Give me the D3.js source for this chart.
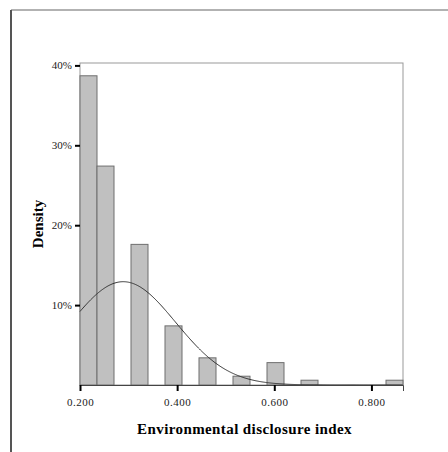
<!DOCTYPE html>
<html>
<head>
<meta charset="utf-8">
<script src="https://cdn.jsdelivr.net/npm/d3@7"></script>
<style>
  body { margin: 0; background: #fff; }
  text { font-family: "Liberation Serif", "DejaVu Serif", serif; }
</style>
</head>
<body>
<div id="chart"></div>
<script>
// histogram bins (lower edge, upper edge) and percent of cases
var binStart = [0.200, 0.235, 0.305, 0.375, 0.445, 0.515, 0.585, 0.655, 0.830];
var binEnd   = [0.235, 0.270, 0.340, 0.410, 0.480, 0.550, 0.620, 0.690, 0.865];
var percent  = [38.7, 27.4, 17.6, 7.4, 3.4, 1.1, 2.8, 0.6, 0.6];

// fitted normal curve
var curveMean = 0.289;
var curveSd = 0.108;
var binWidth = 0.035;

var xTicks = [0.2, 0.4, 0.6, 0.8];
var yTicks = [10, 20, 30, 40];

var W = 448, H = 452;
var margin = {top: 63, right: 45, bottom: 67, left: 80},
    width = W - margin.left - margin.right,
    height = H - margin.top - margin.bottom;

var root = d3.select("#chart").append("svg")
    .attr("width", W)
    .attr("height", H);

// outer frame
root.append("line").attr("x1", 11).attr("y1", 10).attr("x2", W).attr("y2", 10)
    .attr("stroke", "#999").attr("stroke-width", 1.5);
root.append("line").attr("x1", 11).attr("y1", 10).attr("x2", 11).attr("y2", H)
    .attr("stroke", "#555").attr("stroke-width", 2);

var svg = root.append("g")
    .attr("transform", "translate(" + margin.left + "," + margin.top + ")");

var x = d3.scaleLinear().domain([0.2, 0.865]).range([0, width]);
var y = d3.scaleLinear().domain([0, 40.3]).range([height, 0]);

// plot frame
svg.append("rect")
    .attr("x", 0).attr("y", 0)
    .attr("width", width).attr("height", height)
    .attr("fill", "none")
    .attr("stroke", "#999")
    .attr("stroke-width", 1);

// bars
var bins = percent.map(function(p, i) { return {x0: binStart[i], x1: binEnd[i], p: p}; });
svg.selectAll("rect.bar")
    .data(bins)
    .enter().append("rect")
    .attr("class", "bar")
    .attr("x", function(d) { return x(d.x0); })
    .attr("y", function(d) { return y(d.p); })
    .attr("width", function(d) { return x(d.x1) - x(d.x0); })
    .attr("height", function(d) { return height - y(d.p); })
    .attr("fill", "#c0c0c0")
    .attr("stroke", "#6e6e6e")
    .attr("stroke-width", 1);

// normal curve
var pts = d3.range(0.2, 0.8651, 0.002).map(function(v) {
    var z = (v - curveMean) / curveSd;
    return [v, binWidth * 100 / (curveSd * Math.sqrt(2 * Math.PI)) * Math.exp(-0.5 * z * z)];
});
svg.append("path")
    .datum(pts)
    .attr("fill", "none")
    .attr("stroke", "#333")
    .attr("stroke-width", 1)
    .attr("d", d3.line().x(function(d) { return x(d[0]); }).y(function(d) { return y(d[1]); }));

// x axis
var xAxis = svg.append("g")
    .attr("transform", "translate(0," + height + ")")
    .call(d3.axisBottom(x).tickValues(xTicks).tickFormat(d3.format(".3f")).tickSize(6).tickPadding(7));
xAxis.select(".domain").attr("stroke", "#444");
xAxis.selectAll(".tick line").attr("stroke", "#000").attr("stroke-width", 2);
xAxis.selectAll(".tick text").style("font-size", "11px").attr("fill", "#222")
    .style("font-family", "'Liberation Serif', serif").style("letter-spacing", "0.5px");

// y axis
var yAxis = svg.append("g")
    .call(d3.axisLeft(y).tickValues(yTicks).tickFormat(function(d) { return d + "%"; }).tickSize(5).tickPadding(3));
yAxis.select(".domain").remove();
yAxis.selectAll(".tick line").attr("stroke", "#000").attr("stroke-width", 2);
yAxis.selectAll(".tick text").style("font-size", "11px").attr("fill", "#222")
    .style("font-family", "'Liberation Serif', serif");

// axis titles
svg.append("text")
    .attr("x", width / 2 + 3)
    .attr("y", height + 49)
    .attr("text-anchor", "middle")
    .style("font-size", "15px")
    .style("font-weight", "bold")
    .style("letter-spacing", "0.4px")
    .text("Environmental disclosure index");

svg.append("text")
    .attr("transform", "translate(" + (-37) + "," + (height / 2) + ") rotate(-90)")
    .attr("text-anchor", "middle")
    .style("font-size", "15px")
    .style("font-weight", "bold")
    .text("Density");
</script>
</body>
</html>
